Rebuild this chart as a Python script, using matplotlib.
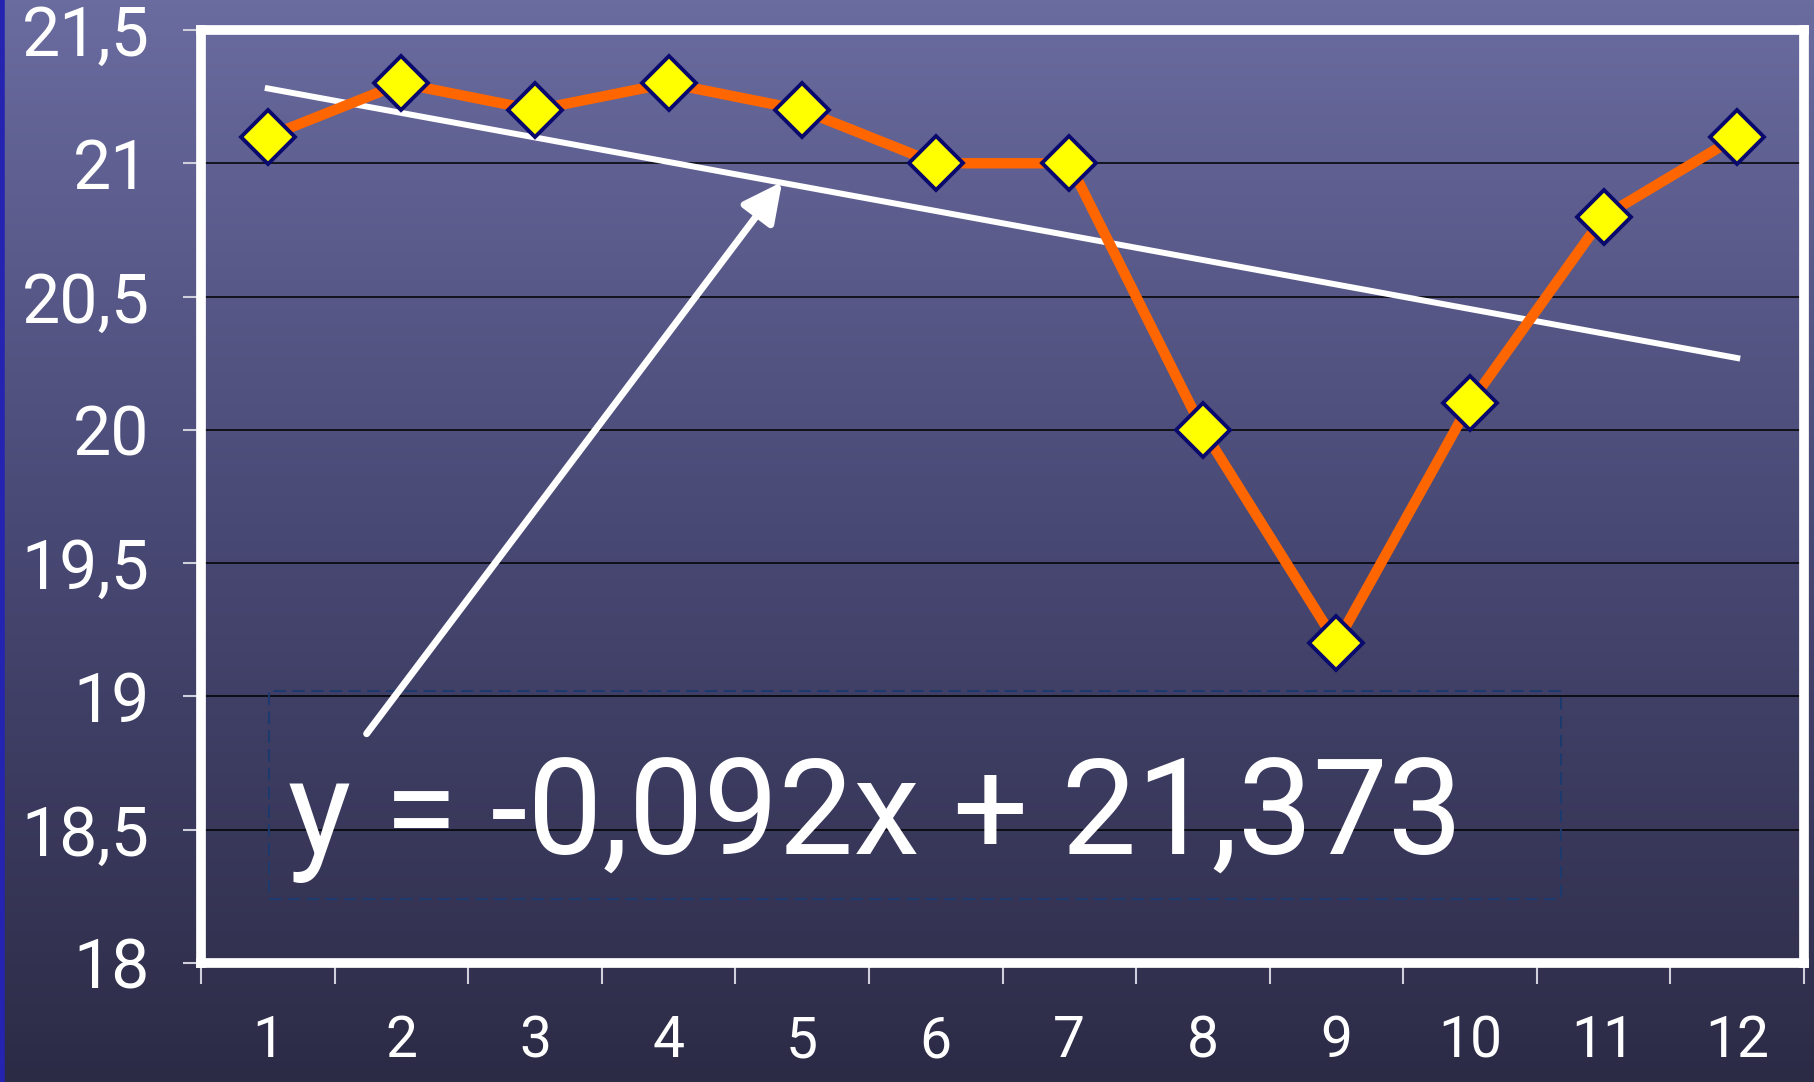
import numpy as np
import matplotlib
matplotlib.use("Agg")
import matplotlib.pyplot as plt
from matplotlib.colors import LinearSegmentedColormap
from matplotlib.patches import Rectangle

# datos
categorias = ["1", "2", "3", "4", "5", "6", "7", "8", "9", "10", "11", "12"]
valores = [21.1, 21.3, 21.2, 21.3, 21.2, 21.0, 21.0, 20.0, 19.2, 20.1, 20.8, 21.1]
y_ticks = [18, 18.5, 19, 19.5, 20, 20.5, 21, 21.5]
y_tick_labels = ["18", "18,5", "19", "19,5", "20", "20,5", "21", "21,5"]
ecuacion = "y = -0,092x + 21,373"

plt.rcParams["font.family"] = ["Roboto", "DejaVu Sans"]

fig = plt.figure(figsize=(18.14, 10.82), dpi=100)

# fondo con degradado (arriba lila, abajo azul oscuro)
fondo = fig.add_axes([0, 0, 1, 1], zorder=-10)
cmap = LinearSegmentedColormap.from_list("fondo", ["#2c2b46", "#484874", "#6a6b9f"])
fondo.imshow(np.linspace(0, 1, 256).reshape(-1, 1), cmap=cmap, aspect="auto",
             extent=[0, 1, 0, 1], origin="lower")
fondo.axvline(0.001, color="#2424b0", lw=4)
fondo.set_axis_off()

ax = fig.add_axes([0.1108, 0.110, 0.8837, 0.8623])
ax.set_facecolor("none")

x = np.arange(1, len(valores) + 1)

for v in y_ticks[1:-1]:
    ax.axhline(v, color="black", lw=1.1, zorder=1)

# linea de tendencia
m, b = np.polyfit(x, valores, 1)
ax.plot(x, m * x + b, color="white", lw=4.3, zorder=2)

ax.plot(x, valores, color="#ff6600", lw=7.5, marker="D", markersize=27,
        markerfacecolor="#ffff00", markeredgecolor="#0a0a6e", markeredgewidth=2.8,
        zorder=3)

ax.set_xlim(0.5, 12.5)
ax.set_ylim(18, 21.5)

ax.set_yticks(y_ticks)
ax.set_yticklabels(y_tick_labels)
ax.set_xticks(np.arange(0.5, 12.6, 1))
ax.set_xticklabels([])
ax.set_xticks(x, minor=True)
ax.set_xticklabels(categorias, minor=True)
ax.tick_params(axis="y", colors="#d0d0dc", labelcolor="white", labelsize=49,
               length=13, width=1.5, pad=24)
ax.tick_params(axis="x", which="major", colors="#d0d0dc", length=15, width=1.5,
               direction="out")
ax.tick_params(axis="x", which="minor", length=0, labelcolor="white",
               labelsize=41, pad=37)

for s in ax.spines.values():
    s.set_color("white")
    s.set_linewidth(7)

# recuadro de la ecuacion
ax.add_patch(Rectangle((1.01, 18.24), 9.67, 0.78, fill=False, edgecolor="#1c3a6e",
                       lw=1.5, ls=(0, (6, 3)), zorder=1))
ax.text(1.15, 18.41, ecuacion, color="white", fontsize=96, va="baseline",
        ha="left", zorder=4)

ax.annotate("", xy=(4.85, 20.93), xytext=(1.74, 18.86),
            arrowprops=dict(arrowstyle="-|>", color="white", lw=5,
                            mutation_scale=60, shrinkA=0, shrinkB=0),
            zorder=4)

fig.savefig("out.png", dpi=100)
